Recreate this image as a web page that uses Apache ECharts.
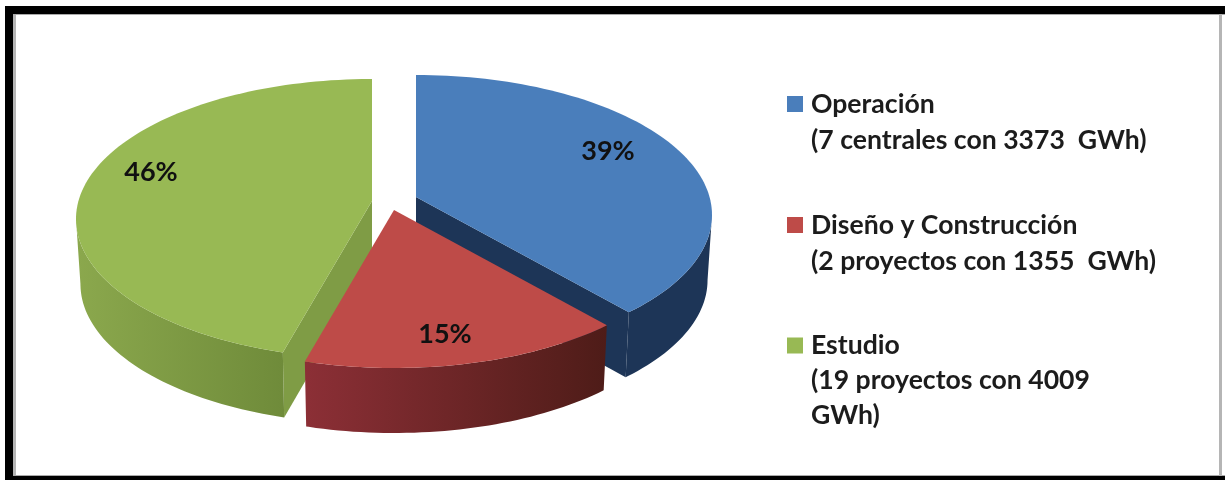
<!DOCTYPE html>
<html>
<head>
<meta charset="utf-8">
<style>
  html, body { margin: 0; padding: 0; background: #fff; }
  #main { width: 1225px; height: 480px; }
</style>
<script src="https://cdn.jsdelivr.net/npm/echarts@6/dist/echarts.min.js"></script>
</head>
<body>
<div id="main"></div>
<script>
const categories = ['Operación', 'Diseño y Construcción', 'Estudio'];
const details = ['(7 centrales con 3373  GWh)', '(2 proyectos con 1355  GWh)', '(19 proyectos con 4009\nGWh)'];
const percents = [39, 15, 46];
const colors = ['#4A7EBB', '#BE4B48', '#98B954'];

// exploded slices, each has its own apex on the page
const apex = [[416, 197], [394, 210], [372, 201]];
const labelPos = [[608, 151], [445, 334], [151, 172]];
const cutColors = ['#1D3557', '#5A1F1C', '#7F9C45'];
const wallStops = [
  ['#1D3557', '#1D3557'],
  ['#8C2F36', '#4E1C18'],
  ['#8BA84D', '#6F8B3A']
];
const RX = 296, RY = 140, CY_SHIFT = 18, DEPTH = 65, SHRINK = 0.985;

const total = percents.reduce((a, b) => a + b, 0);
let acc = 0;
const spans = percents.map(v => {
  const s = [acc / total * 360, (acc + v) / total * 360];
  acc += v;
  return s;
});

// true pie angle -> angle on the tilted ellipse
const warp = deg => deg + 6.5 * Math.sin(2 * deg * Math.PI / 180);

function rim(i, phi) {
  const r = phi * Math.PI / 180;
  return [apex[i][0] + RX * Math.sin(r), apex[i][1] + CY_SHIFT - RY * Math.cos(r)];
}
function drop(i, p) {
  return [apex[i][0] + (p[0] - apex[i][0]) * SHRINK, p[1] + DEPTH];
}
function arc(i, from, to) {
  const pts = [];
  for (let a = from; a < to; a += 1.5) pts.push(rim(i, a));
  pts.push(rim(i, to));
  return pts;
}

function renderSlice(i) {
  return function (params, api) {
    const from = warp(api.value(1));
    const to = warp(api.value(2));
    const children = [];

    // cut side next to the apex: blue shows its end edge, green its start edge
    if (i !== 1) {
      const end = rim(i, i === 0 ? to : from);
      children.push({
        type: 'polygon',
        shape: { points: [apex[i], end, drop(i, end), [apex[i][0], apex[i][1] + DEPTH]] },
        style: { fill: cutColors[i] }
      });
    }
    // front wall, only the part that faces the viewer
    const wFrom = Math.max(from, 90), wTo = Math.min(to, 270);
    if (wTo > wFrom) {
      const edge = arc(i, wFrom, wTo);
      children.push({
        type: 'polygon',
        shape: { points: edge.concat(edge.map(p => drop(i, p)).reverse()) },
        style: {
          fill: new echarts.graphic.LinearGradient(0, 0, 1, 0, [
            { offset: 0, color: wallStops[i][0] },
            { offset: 1, color: wallStops[i][1] }
          ])
        }
      });
    }
    // top face
    children.push({
      type: 'polygon',
      shape: { points: [apex[i]].concat(arc(i, from, to)) },
      style: { fill: api.visual('color') }
    });
    children.push({
      type: 'text',
      style: {
        x: labelPos[i][0], y: labelPos[i][1],
        text: api.value(0) + '%',
        fill: '#111',
        font: 'bold 27px Lato',
        align: 'center', verticalAlign: 'middle'
      }
    });
    return { type: 'group', children: children };
  };
}

const legendTops = [86, 207, 328];
const legendH = [52, 52, 86];
const squareIcon = h => `path://M0 0H16V16H0Z M0 ${h}H16`;

const chart = echarts.init(document.getElementById('main'));
chart.setOption({
  animation: false,
  backgroundColor: '#fff',
  graphic: [
    { type: 'rect', z: -10, shape: { x: 5, y: 6, width: 1220, height: 474 }, style: { fill: '#000' } },
    { type: 'rect', z: -9, shape: { x: 13, y: 14, width: 1212, height: 462 }, style: { fill: '#fff' } },
    { type: 'rect', z: -9, shape: { x: 13, y: 14, width: 3, height: 462 }, style: { fill: '#b5b5b5' } },
    { type: 'rect', z: -9, shape: { x: 13, y: 14, width: 1212, height: 1 }, style: { fill: '#aaa' } },
    { type: 'rect', z: -9, shape: { x: 13, y: 475, width: 1212, height: 1 }, style: { fill: '#aaa' } },
    { type: 'rect', z: -9, shape: { x: 1219, y: 14, width: 3, height: 462 }, style: { fill: '#b5b5b5' } }
  ],
  legend: categories.map((name, i) => ({
    left: 787,
    top: legendTops[i],
    orient: 'vertical',
    selectedMode: false,
    itemWidth: 16,
    itemHeight: legendH[i],
    itemGap: 0,
    padding: 0,
    data: [{ name: name, icon: squareIcon(legendH[i]), itemStyle: { color: colors[i] } }],
    formatter: n => n + '\n' + details[categories.indexOf(n)],
    textStyle: {
      fontFamily: 'Lato',
      fontWeight: 'bold',
      fontSize: 26.6,
      lineHeight: i === 2 ? 35 : 36,
      color: '#1c1c1c',
      padding: [0, 0, 0, 3]
    }
  })),
  series: categories.map((name, i) => ({
    type: 'custom',
    name: name,
    coordinateSystem: 'none',
    silent: true,
    z: i === 1 ? 5 : 3,
    itemStyle: { color: colors[i] },
    data: [[percents[i], spans[i][0], spans[i][1]]],
    renderItem: renderSlice(i)
  }))
});
</script>
</body>
</html>
